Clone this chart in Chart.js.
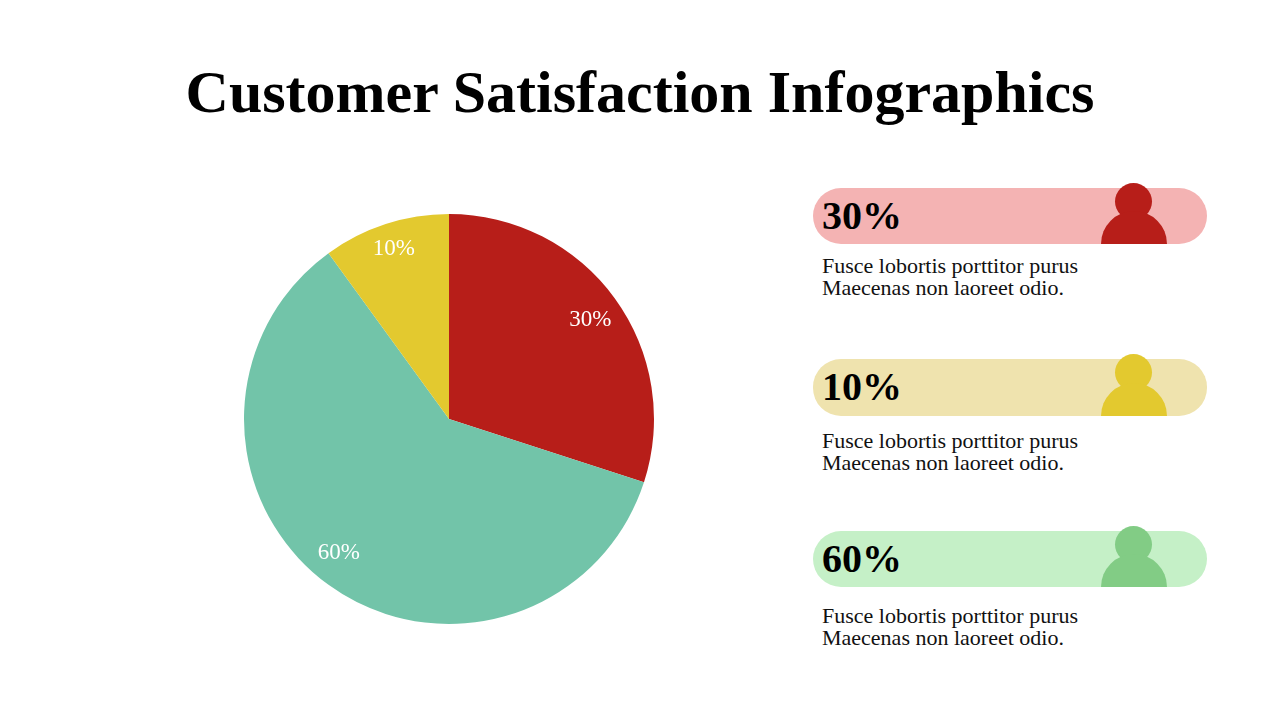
<!DOCTYPE html>
<html>
<head>
<meta charset="utf-8">
<title>Customer Satisfaction Infographics</title>
<script src="https://cdn.jsdelivr.net/npm/chart.js@4"></script>
<style>
  body { margin: 0; background: #fff; font-family: "Liberation Serif", serif; }
  #page { position: relative; width: 1280px; height: 720px; overflow: hidden; }
  h1 { position: absolute; left: 0; top: 60px; width: 1280px; margin: 0; text-align: center;
       font-size: 60px; line-height: 64px; font-weight: bold; color: #000; }
  #pieWrap { position: absolute; left: 234px; top: 204px; width: 430px; height: 430px; }
  .bar { position: absolute; left: 813px; width: 394px; border-radius: 28px; }
  .pct { position: absolute; left: 9px; top: 6px; font-size: 40px; line-height: 44px; font-weight: bold; color: #000; }
  .head { position: absolute; left: 302px; top: -5px; width: 37px; height: 37px; border-radius: 50%; }
  .body { position: absolute; left: 288px; bottom: 0; width: 66px; height: 33px; border-radius: 33px 33px 0 0; }
  .desc { position: absolute; left: 822px; font-size: 22px; line-height: 22px; color: #111; }
</style>
</head>
<body>
<div id="page">
  <h1>Customer Satisfaction Infographics</h1>
  <div id="pieWrap"><canvas id="pie" width="430" height="430"></canvas></div>
  <div id="rows"></div>
</div>
<script>
const slices = [
  { label: '30%', value: 30, color: '#b71e19', dx: 2, dy: 2 },
  { label: '60%', value: 60, color: '#72c4a9', dx: -9, dy: -5 },
  { label: '10%', value: 10, color: '#e3c92f', dx: -2, dy: -6 }
];

const rows = [
  { label: '30%', top: 188, height: 56, light: '#f4b3b3', dark: '#b71e19', descTop: 255 },
  { label: '10%', top: 359, height: 57, light: '#efe3ae', dark: '#e3c92f', descTop: 430 },
  { label: '60%', top: 531, height: 56, light: '#c5f0c7', dark: '#82cc85', descTop: 605 }
];

const rowsEl = document.getElementById('rows');
rows.forEach(r => {
  rowsEl.insertAdjacentHTML('beforeend',
    `<div class="bar" style="top:${r.top}px;height:${r.height}px;background:${r.light}">
       <div class="pct">${r.label}</div>
       <div class="head" style="background:${r.dark}"></div>
       <div class="body" style="background:${r.dark}"></div>
     </div>
     <div class="desc" style="top:${r.descTop}px">Fusce lobortis porttitor purus<br>Maecenas non laoreet odio.</div>`);
});

// prints each slice's label inside the slice
const sliceLabels = {
  id: 'sliceLabels',
  afterDatasetsDraw(chart) {
    const ctx = chart.ctx;
    ctx.save();
    ctx.font = '23px "Liberation Serif"';
    ctx.fillStyle = '#fff';
    ctx.textAlign = 'center';
    ctx.textBaseline = 'middle';
    chart.getDatasetMeta(0).data.forEach((arc, i) => {
      const mid = (arc.startAngle + arc.endAngle) / 2;
      const r = arc.outerRadius * 0.84;
      const s = slices[i];
      ctx.fillText(s.label, arc.x + Math.cos(mid) * r + s.dx, arc.y + Math.sin(mid) * r + s.dy);
    });
    ctx.restore();
  }
};

new Chart(document.getElementById('pie').getContext('2d'), {
  type: 'pie',
  data: {
    labels: slices.map(s => s.label),
    datasets: [{
      data: slices.map(s => s.value),
      backgroundColor: slices.map(s => s.color),
      borderWidth: 0
    }]
  },
  options: {
    responsive: false,
    animation: false,
    layout: { padding: 10 },
    plugins: { legend: { display: false }, tooltip: { enabled: false } }
  },
  plugins: [sliceLabels]
});
</script>
</body>
</html>
